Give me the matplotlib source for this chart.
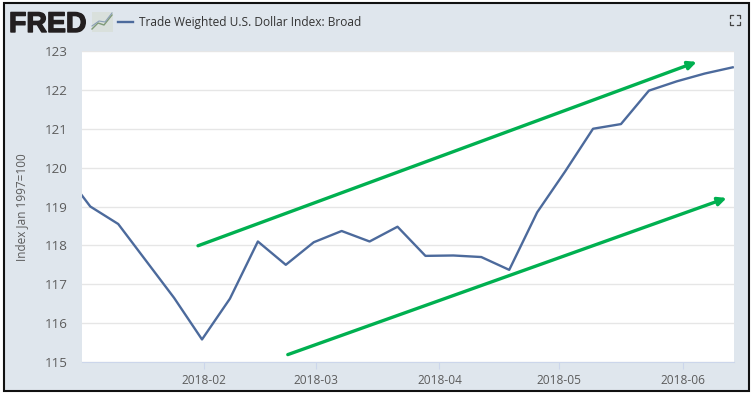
import matplotlib
matplotlib.use("Agg")
import matplotlib.pyplot as plt
import matplotlib.dates as mdates
import matplotlib.patheffects as pe
from matplotlib.patches import Rectangle, FancyArrowPatch
from matplotlib.lines import Line2D
import numpy as np

dates = ["2017-12-27T12", "2018-01-03T12", "2018-01-10T12", "2018-01-17T12", "2018-01-24T12", "2018-01-31T12",
         "2018-02-07T12", "2018-02-14T12", "2018-02-21T12", "2018-02-28T12", "2018-03-07T12", "2018-03-14T12",
         "2018-03-21T12", "2018-03-28T12", "2018-04-04T12", "2018-04-11T12", "2018-04-18T12", "2018-04-25T12",
         "2018-05-02T12", "2018-05-09T12", "2018-05-16T12", "2018-05-23T12", "2018-05-30T12", "2018-06-06T12",
         "2018-06-13T12"]
index_values = [119.95, 119.0, 118.55, 117.6, 116.65, 115.58,
                116.63, 118.1, 117.5, 118.08, 118.37, 118.1,
                118.48, 117.73, 117.74, 117.7, 117.37, 118.85,
                119.9, 121.0, 121.12, 121.98, 122.22, 122.42,
                122.58]
y_ticks = [115, 116, 117, 118, 119, 120, 121, 122, 123]
x_ticks = ["2018-02-01", "2018-03-01", "2018-04-01", "2018-05-01", "2018-06-01"]
x_tick_labels = ["2018-02", "2018-03", "2018-04", "2018-05", "2018-06"]
upper_arrow = (("2018-01-30T12", 117.99), ("2018-06-04T12", 122.72))
lower_arrow = (("2018-02-22", 115.19), ("2018-06-12", 119.22))

W, H = 752, 395
BG = "#dfe6ed"
LINE = "#4c6a9c"
GREEN = "#00b050"
TXT = "#5c5c5c"


def d(s):
    return mdates.date2num(np.datetime64(s))


def fx(px):
    return px / W


def fy(py):
    return 1 - py / H


plt.rcParams["font.family"] = ["Open Sans", "DejaVu Sans"]
fig = plt.figure(figsize=(W / 100, H / 100), dpi=100, facecolor="white")
fig.add_artist(Rectangle((fx(3.5), fy(391)), fx(745), 388 / H, transform=fig.transFigure,
                         facecolor=BG, edgecolor="#111111", linewidth=1.5, zorder=-5))

ax = fig.add_axes([fx(82), fy(362), fx(652), 311 / H])
ax.set_facecolor("white")
ax.plot([d(s) for s in dates], index_values, color=LINE, linewidth=1.7, zorder=3)

# x range comes from the tick spacing in the picture, about 3.99 px per day
ax.set_xlim(d("2018-02-01") - 122 / 3.99, d("2018-02-01") + 530 / 3.99)
ax.set_ylim(115, 123)
ax.set_yticks(y_ticks)
ax.set_xticks([d(s) for s in x_ticks])
ax.set_xticklabels(x_tick_labels)
ax.grid(axis="y", color="#e6e6e6", linewidth=1)
ax.set_axisbelow(True)
for side in ["top", "left", "right"]:
    ax.spines[side].set_visible(False)
ax.spines["bottom"].set_color("#ccd6eb")
ax.tick_params(axis="y", length=0, pad=10.5, labelsize=9.6, labelcolor=TXT)
ax.tick_params(axis="x", length=5, width=0.8, color="#ccd6eb", pad=4, labelsize=8.6, labelcolor=TXT)
ax.set_ylabel("Index Jan 1997=100", fontsize=8.5, color=TXT)
ax.yaxis.set_label_coords(-53.5 / 652, 0.497)

for start, end in (upper_arrow, lower_arrow):
    ax.add_patch(FancyArrowPatch((d(start[0]), start[1]), (d(end[0]), end[1]),
                                 arrowstyle="-|>,head_length=5,head_width=2.4", color=GREEN,
                                 linewidth=2.4, shrinkA=0, shrinkB=0, zorder=4, clip_on=False))

# header
fig.text(fx(9), fy(32), "FRED", family="Liberation Sans", fontweight="bold", fontsize=20.5,
         color="#231f20", path_effects=[pe.withStroke(linewidth=1.0, foreground="#231f20")])
fig.add_artist(Rectangle((fx(92), fy(32)), fx(21), 20 / H, transform=fig.transFigure,
                         facecolor="#d9e0dc", edgecolor="none"))
fig.add_artist(Line2D([fx(92), fx(98), fx(104), fx(112)], [fy(29), fy(23), fy(25), fy(15)],
                      color="#7f9a78", linewidth=1))
fig.add_artist(Line2D([fx(92), fx(99), fx(105), fx(112)], [fy(26), fy(21), fy(22), fy(13)],
                      color="#8a9fb5", linewidth=0.8))
fig.add_artist(Line2D([fx(118), fx(133)], [fy(21.5), fy(21.5)], color=LINE, linewidth=1.7))
fig.text(fx(139), fy(22.5), "Trade Weighted U.S. Dollar Index: Broad", fontsize=8.55,
         color="#333333", va="center")

# fullscreen icon, four corners
for cx, cy, sx, sy in [(730, 15, 1, 1), (740, 15, -1, 1), (730, 25, 1, -1), (740, 25, -1, -1)]:
    fig.add_artist(Line2D([fx(cx + 3 * sx), fx(cx), fx(cx)], [fy(cy), fy(cy), fy(cy + 3 * sy)],
                          color="#444444", linewidth=0.9))

fig.savefig("out.png", dpi=100, facecolor="white")
